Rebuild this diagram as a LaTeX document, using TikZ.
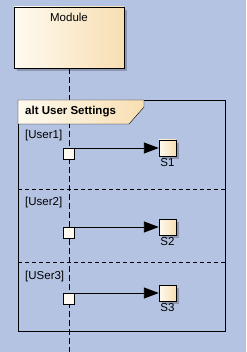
\documentclass[tikz,border=0pt]{standalone}
\usepackage{fontspec}
\setmainfont{Liberation Sans}
\usepackage{xcolor}
\usepackage{tikz}
\usetikzlibrary{positioning, arrows.meta, shadows}

\definecolor{diagbg}{RGB}{180,195,226}
\definecolor{shadowgray}{RGB}{140,150,176}
\definecolor{creamlight}{RGB}{254,250,240}
\definecolor{creampeach}{RGB}{248,222,178}

\tikzset{
  umlshadow/.style={drop shadow={shadow xshift=3pt, shadow yshift=-3pt, fill=shadowgray, opacity=1}},
  lifebox/.style={draw, semithick, umlshadow, left color=creamlight, right color=creampeach,
    minimum width=110pt, minimum height=61pt, inner sep=0pt},
  actbox/.style={draw, fill=creamlight, minimum size=11pt, inner sep=0pt},
  statebox/.style={draw, umlshadow, left color=creamlight, right color=creampeach,
    minimum width=17pt, minimum height=16pt, inner sep=0pt},
  umltext/.style={font=\fontsize{11.5}{13}\selectfont, inner sep=1pt},
  msgarrow/.style={-{Triangle[length=15pt, width=11pt]}, line width=0.9pt},
}

\begin{document}
\begin{tikzpicture}[x=1pt, y=-1pt]
    \fill[diagbg] (0,0) rectangle (246,352);
    \useasboundingbox (0,0) rectangle (246,352);

    % lifeline
    \node[lifebox] (module) at (69,37.5) {};
    \node[umltext, anchor=north] (modtitle) at ([yshift=-5pt]module.north) {Module};
    \coordinate (lifeend) at (69,352);
    \draw[dash pattern=on 6pt off 3pt] (module.south) -- (lifeend);

    % combined fragment
    \draw (18,100) rectangle (225,331);
    \draw[left color=creamlight, right color=creampeach]
        (18,100) -- (144,100) -- (144,107) -- (129,124) -- (18,124) -- cycle;
    \node[umltext, font=\fontsize{11.5}{13}\selectfont\bfseries, anchor=west] (fragtitle) at (24,112) {alt User Settings};
    \foreach \s in {189,262} {
        \draw[dash pattern=on 4pt off 3pt] (18,\s) -- (225,\s);
    }

    % operands
    \foreach \i/\g/\y/\gy in {1/User1/148/136, 2/User2/227/203, 3/USer3/293/277} {
        \node[umltext, anchor=west] (guard\i) at (24,\gy) {[\g]};
        \node[actbox, anchor=north] (act\i) at (69,\y) {};
        \node[statebox] (st\i) at (167.5,\y) {};
        \node[umltext, below=1pt of st\i] (lbl\i) {S\i};
        \draw[msgarrow] (act\i.north east) -- (st\i.west);
    }
\end{tikzpicture}
\end{document}
